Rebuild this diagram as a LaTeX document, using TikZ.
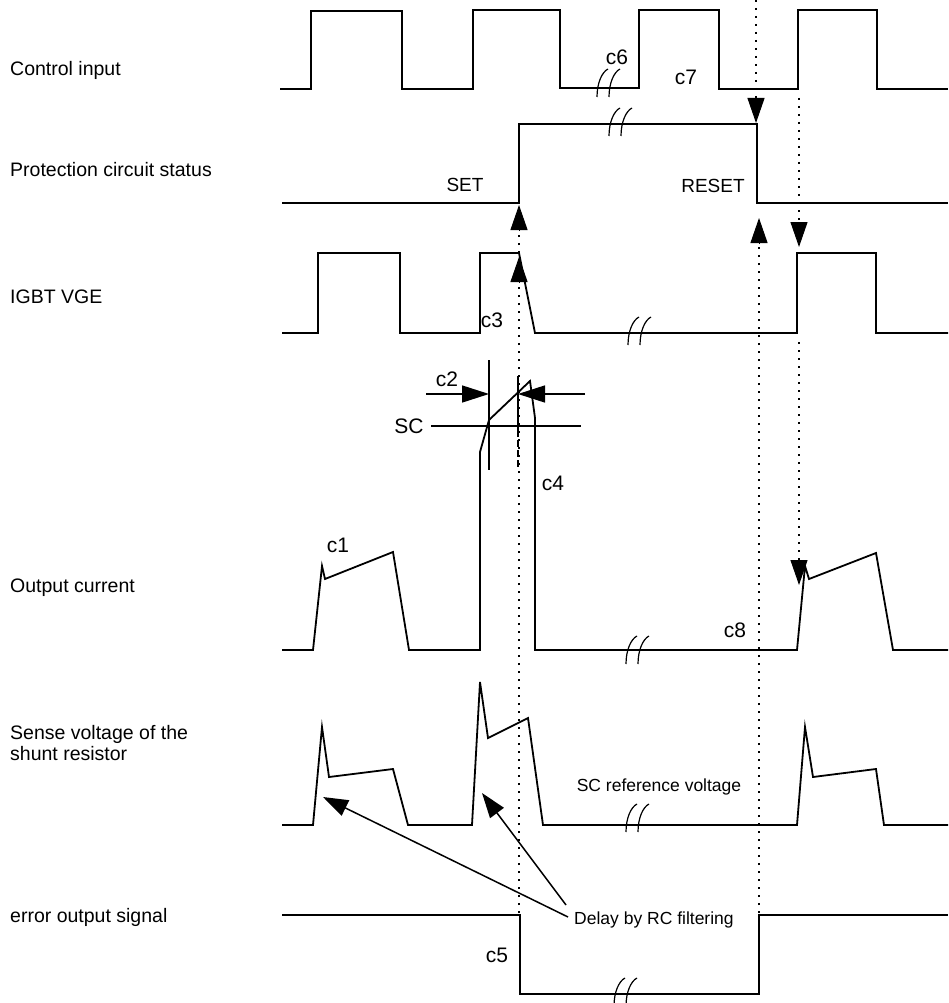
\documentclass[tikz,border=0pt]{standalone}
\usepackage{fontspec}
\setmainfont{Liberation Sans}
\usetikzlibrary{arrows.meta}
\tikzset{
  brkmark/.pic={
    \draw[line width=1.2pt] (-6,14) .. controls (-6,0) and (-1,-11) .. (5,-14);
    \draw[line width=1.2pt] (6,14) .. controls (6,0) and (11,-11) .. (17,-14);
  }
}
\begin{document}
\begin{tikzpicture}[x=1pt,y=-1pt,
  wave/.style={line width=1.8pt, line join=miter},
  dots/.style={line width=1.8pt, dash pattern=on 1.8pt off 6.2pt},
  bigtip/.style={-{Triangle[width=17pt,length=25pt]}, line width=1pt},
  thin/.style={line width=1.5pt},
  lbl/.style={anchor=west, align=left, font=\fontsize{19.5}{21}\selectfont, inner sep=0},
  clbl/.style={font=\fontsize{21}{23}\selectfont, inner sep=0},
  small/.style={font=\fontsize{17.5}{20}\selectfont, inner sep=0}]
\useasboundingbox (0,0) rectangle (948,1003);

% left labels
\node[lbl] (l1) at (10,70) {Control input};
\node[lbl] (l2) at (10,170) {Protection circuit status};
\node[lbl] (l3) at (10,297) {IGBT VGE};
\node[lbl] (l4) at (10,588) {Output current};
\node[lbl] (l5) at (10,743) {Sense voltage of the\\shunt resistor};
\node[lbl] (l6) at (10,917) {error output signal};

% waveforms
\draw[wave] (280,89) -- (311,89) -- (311,11) -- (402,11) -- (402,89) -- (473,89) -- (473,10) -- (560,10) -- (560,88) -- (639,88) -- (639,10) -- (719,10) -- (719,89) -- (798,89) -- (798,10) -- (877,10) -- (877,89) -- (948,89);
\draw[wave] (282,203) -- (519,203) -- (519,124) -- (757,124) -- (757,203) -- (948,203);
\draw[wave] (282,333) -- (318,333) -- (318,253) -- (400,253) -- (400,333) -- (480,333) -- (480,253) -- (519,253) -- (535,333) -- (797,333) -- (797,253) -- (876,253) -- (876,333) -- (948,333);
\draw[wave] (282,650) -- (313,650) -- (322,566) -- (325,579) -- (393,552) -- (409,650) -- (480,650) -- (480,452) -- (489,420) -- (530,381) -- (535,418) -- (535,650) -- (797,650) -- (805,566) -- (809,579) -- (876,553) -- (893,650) -- (948,650);
\draw[wave] (282,825) -- (313,825) -- (322,727) -- (329,777) -- (393,769) -- (408,825) -- (472,825) -- (480,682) -- (488,738) -- (528,718) -- (543,825) -- (797,825) -- (805,727) -- (813,777) -- (876,769) -- (884,825) -- (948,825);
\draw[wave] (282,915) -- (520,915) -- (520,994) -- (759,994) -- (759,915) -- (948,915);

% break marks
\pic at (603,83) {brkmark};
\pic at (615,122) {brkmark};
\pic at (634,331) {brkmark};
\pic at (632,650) {brkmark};
\pic at (632,818) {brkmark};
\pic at (620,992) {brkmark};

% SC detail
\draw[thin] (489,360) -- (489,470);
\draw[thin] (431,426) -- (581,426);
\draw[thin] (518,376) -- (518,430);
\draw[thin, dash pattern=on 7pt off 3pt] (518,430) -- (518,468);
\coordinate (c2a) at (426,394);
\coordinate (c2b) at (489,394);
\coordinate (c2c) at (585,394);
\coordinate (c2d) at (518,394);
\draw[thin, -{Triangle[width=17pt,length=27pt]}] (c2a) -- (c2b);
\draw[thin, -{Triangle[width=17pt,length=27pt]}] (c2c) -- (c2d);

% dotted arrows
\coordinate (a1s) at (756,0);   \coordinate (a1b) at (756,98);  \coordinate (a1t) at (756,123);
\draw[dots] (a1s) -- (a1b); \draw[bigtip] (a1b) -- (a1t);
\coordinate (a2s) at (799,98);  \coordinate (a2b) at (799,222); \coordinate (a2t) at (799,247);
\draw[dots] (a2s) -- (a2b); \draw[bigtip] (a2b) -- (a2t);
\coordinate (a3s) at (799,342); \coordinate (a3b) at (799,560); \coordinate (a3t) at (799,585);
\draw[dots] (a3s) -- (a3b); \draw[bigtip] (a3b) -- (a3t);
\coordinate (a4s) at (759,913); \coordinate (a4b) at (759,244); \coordinate (a4t) at (759,218);
\draw[dots] (a4s) -- (a4b); \draw[bigtip] (a4b) -- (a4t);
\coordinate (a5s) at (519,913); \coordinate (a5b) at (519,283); \coordinate (a5t) at (519,257);
\coordinate (a6s) at (519,253); \coordinate (a6b) at (519,231); \coordinate (a6t) at (519,205);
\draw[dots] (a5s) -- (a5b); \draw[bigtip] (a5b) -- (a5t);
\draw[dots] (a6s) -- (a6b); \draw[bigtip] (a6b) -- (a6t);

% RC filtering arrows
\node[small, anchor=west] (rc) at (574,920) {Delay by RC filtering};
\coordinate (rc1) at (568,917); \coordinate (rc1t) at (323,797);
\coordinate (rc2) at (566,905); \coordinate (rc2t) at (482,793);
\draw[thin, -{Triangle[width=17pt,length=25pt]}] (rc1) -- (rc1t);
\draw[thin, -{Triangle[width=17pt,length=25pt]}] (rc2) -- (rc2t);
\node[small] (scref) at (659,787) {SC reference voltage};

% labels
\node[small, font=\fontsize{19}{21}\selectfont] (set) at (465,185) {SET};
\node[small, font=\fontsize{19}{21}\selectfont] (reset) at (713,186) {RESET};
\node[clbl] (c1) at (338,545) {c1};
\node[clbl] (c2) at (447,379) {c2};
\node[clbl] (c3) at (492,320) {c3};
\node[clbl] (c4) at (553,483) {c4};
\node[clbl] (c5) at (497,955) {c5};
\node[clbl] (c6) at (617,57) {c6};
\node[clbl] (c7) at (686,77) {c7};
\node[clbl] (c8) at (735,630) {c8};
\node[clbl] (sc) at (409,426) {SC};
\end{tikzpicture}
\end{document}
